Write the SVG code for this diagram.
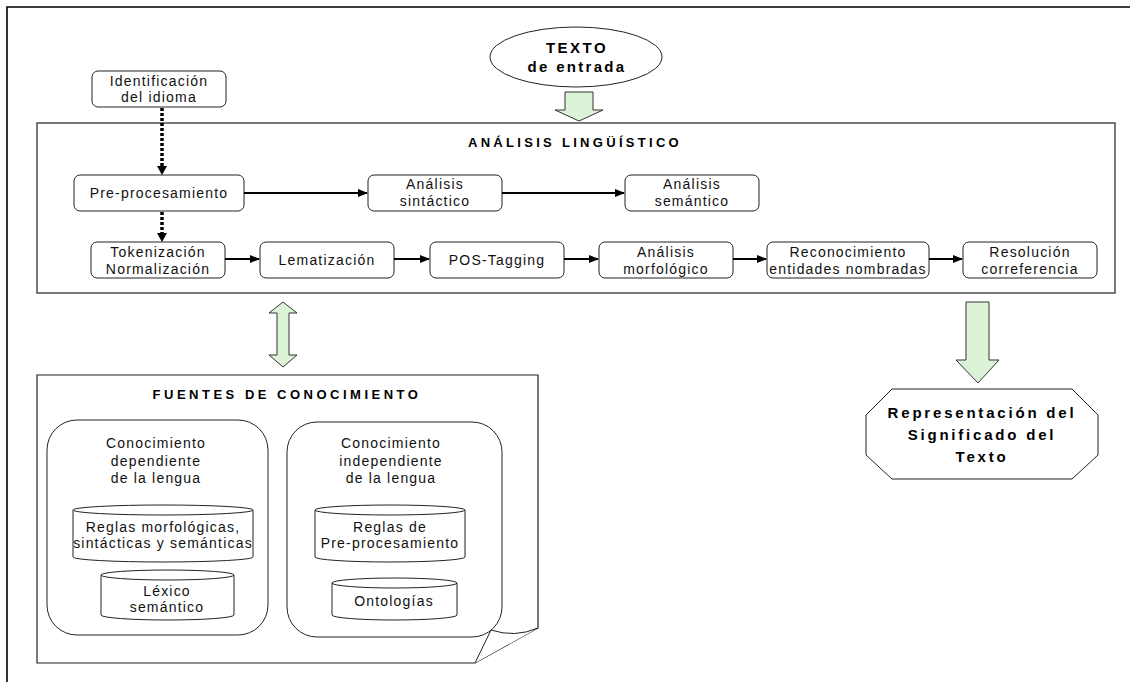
<svg xmlns="http://www.w3.org/2000/svg" width="1130" height="682" viewBox="0 0 1130 682">
<style>
.t{font-family:"Liberation Sans",Arial,sans-serif;font-size:14px;letter-spacing:1.2px;fill:#111;text-anchor:middle}
.b{font-family:"Liberation Sans",Arial,sans-serif;font-weight:bold;fill:#000;text-anchor:middle}
.node{fill:#fff;stroke:#222;stroke-width:1}
.cyl{fill:#fff;stroke:#222;stroke-width:1}
.conn{stroke:#000;stroke-width:2;fill:none}
.dash{stroke:#000;stroke-width:3.5;stroke-dasharray:3 2;fill:none}
.big{fill:#dcf3d8;stroke:#333;stroke-width:1}
</style>
<defs>
<marker id="ah" markerWidth="10" markerHeight="8" refX="9" refY="4" orient="auto" markerUnits="userSpaceOnUse">
<path d="M0,0 L10,4 L0,8 Z" fill="#000"/>
</marker>
</defs>
<rect width="1130" height="682" fill="#fff"/>
<g id="frame">
<path d="M7,682 V7 H1130" fill="none" stroke="#000" stroke-width="1.6"/>
</g>
<g id="texto-entrada">
<ellipse cx="576" cy="57" rx="86" ry="30" fill="#fff" stroke="#222" stroke-width="1"/>
<text class="b" x="577" y="53" font-size="15" letter-spacing="2.5">TEXTO</text>
<text class="b" x="577" y="72" font-size="15" letter-spacing="2.3">de entrada</text>
</g>
<g id="arrow-in">
<path class="big" d="M565,92 H593 V110 H603 L579,121 L555,110 H565 Z"/>
</g>
<g id="analisis">
<rect x="37" y="123" width="1078" height="170" fill="#fff" stroke="#404040" stroke-width="1.4"/>
<text class="b" x="575" y="147" font-size="13" letter-spacing="3.3">ANÁLISIS LINGÜÍSTICO</text>
</g>
<g id="identificacion">
<rect class="node" x="92" y="71" width="134" height="36" rx="6"/>
<text class="t" x="159" y="86">Identificación</text>
<text class="t" x="159" y="102">del idioma</text>
</g>
<g id="preproc">
<rect class="node" x="74" y="175" width="170" height="36" rx="6"/>
<text class="t" x="159" y="198">Pre-procesamiento</text>
</g>
<g id="sintactico">
<rect class="node" x="368" y="175" width="134" height="36" rx="6"/>
<text class="t" x="435" y="189">Análisis</text>
<text class="t" x="435" y="206">sintáctico</text>
</g>
<g id="semantico">
<rect class="node" x="625" y="175" width="134" height="36" rx="6"/>
<text class="t" x="692" y="189">Análisis</text>
<text class="t" x="692" y="206">semántico</text>
</g>
<g id="tokenizacion">
<rect class="node" x="91" y="242" width="134" height="36" rx="6"/>
<text class="t" x="158" y="257">Tokenización</text>
<text class="t" x="158" y="274">Normalización</text>
</g>
<g id="lematizacion">
<rect class="node" x="260" y="242" width="134" height="36" rx="6"/>
<text class="t" x="327" y="265">Lematización</text>
</g>
<g id="postagging">
<rect class="node" x="430" y="242" width="134" height="36" rx="6"/>
<text class="t" x="497" y="265">POS-Tagging</text>
</g>
<g id="morfologico">
<rect class="node" x="599" y="242" width="134" height="36" rx="6"/>
<text class="t" x="666" y="257">Análisis</text>
<text class="t" x="666" y="274">morfológico</text>
</g>
<g id="reconocimiento">
<rect class="node" x="767" y="242" width="162" height="36" rx="6"/>
<text class="t" x="848" y="257">Reconocimiento</text>
<text class="t" x="848" y="274" letter-spacing="1">entidades nombradas</text>
</g>
<g id="resolucion">
<rect class="node" x="963" y="242" width="134" height="36" rx="6"/>
<text class="t" x="1030" y="257">Resolución</text>
<text class="t" x="1030" y="274">correferencia</text>
</g>
<g id="connectors">
<line class="dash" x1="162" y1="108" x2="162" y2="167"/>
<path d="M157,166 L167,166 L162,175 Z" fill="#000"/>
<line class="dash" x1="162" y1="212" x2="162" y2="234"/>
<path d="M157,233 L167,233 L162,242 Z" fill="#000"/>
<line class="conn" x1="244" y1="193" x2="367" y2="193" marker-end="url(#ah)"/>
<line class="conn" x1="502" y1="193" x2="624" y2="193" marker-end="url(#ah)"/>
<line class="conn" x1="225" y1="259" x2="259" y2="259" marker-end="url(#ah)"/>
<line class="conn" x1="394" y1="259" x2="429" y2="259" marker-end="url(#ah)"/>
<line class="conn" x1="564" y1="259" x2="598" y2="259" marker-end="url(#ah)"/>
<line class="conn" x1="733" y1="259" x2="766" y2="259" marker-end="url(#ah)"/>
<line class="conn" x1="929" y1="259" x2="962" y2="259" marker-end="url(#ah)"/>
</g>
<g id="double-arrow">
<path class="big" d="M283,302 L297,313 H289 V355 H297 L283,367 L269,355 H277 V313 H269 Z"/>
</g>
<g id="arrow-out">
<path class="big" d="M966,302 H989 V360 H999 L978,383 L956,360 H966 Z"/>
</g>
<g id="representacion">
<polygon points="892,389 1072,389 1098,415 1098,455 1072,479 892,479 866,455 866,415" fill="#fff" stroke="#222" stroke-width="1"/>
<text class="b" x="982" y="418" font-size="15" letter-spacing="2.8">Representación del</text>
<text class="b" x="982" y="440" font-size="15" letter-spacing="2.8">Significado del</text>
<text class="b" x="982" y="462" font-size="15" letter-spacing="2.8">Texto</text>
</g>
<g id="fuentes">
<path d="M37,375 H538 V628 L475,663 H37 Z" fill="#fff" stroke="#222" stroke-width="1.2"/>
<text class="b" x="287" y="399" font-size="13" letter-spacing="3.5">FUENTES DE CONOCIMIENTO</text>
</g>
<g id="dependiente">
<rect x="47" y="420" width="221" height="215" rx="30" fill="#fff" stroke="#222" stroke-width="1"/>
<text class="t" x="156" y="448">Conocimiento</text>
<text class="t" x="156" y="466">dependiente</text>
<text class="t" x="156" y="483">de la lengua</text>
</g>
<g id="independiente">
<rect x="287" y="422" width="215" height="215" rx="30" fill="#fff" stroke="#222" stroke-width="1"/>
<text class="t" x="391" y="448">Conocimiento</text>
<text class="t" x="391" y="466">independiente</text>
<text class="t" x="391" y="483">de la lengua</text>
</g>
<g id="fold">
<path d="M475,663 L491,630 Q515,638 538,628" fill="#fff" stroke="#222" stroke-width="1"/>
</g>
<g id="reglas-morfo">
<path class="cyl" d="M73,510 A90,5 0 0 1 253,510 V557 A90,5 0 0 1 73,557 Z"/>
<path class="cyl" d="M73,510 A90,5 0 0 0 253,510" fill="none"/>
<text class="t" x="163" y="532" letter-spacing="1">Reglas morfológicas,</text>
<text class="t" x="163" y="548" letter-spacing="1">sintácticas y semánticas</text>
</g>
<g id="lexico">
<path class="cyl" d="M101,575 A66.5,5 0 0 1 234,575 V615 A66.5,5 0 0 1 101,615 Z"/>
<path class="cyl" d="M101,575 A66.5,5 0 0 0 234,575" fill="none"/>
<text class="t" x="167" y="596">Léxico</text>
<text class="t" x="167" y="612">semántico</text>
</g>
<g id="reglas-pre">
<path class="cyl" d="M315,510 A75,5 0 0 1 465,510 V557 A75,5 0 0 1 315,557 Z"/>
<path class="cyl" d="M315,510 A75,5 0 0 0 465,510" fill="none"/>
<text class="t" x="390" y="532">Reglas de</text>
<text class="t" x="390" y="548">Pre-procesamiento</text>
</g>
<g id="ontologias">
<path class="cyl" d="M332,583 A62.5,5 0 0 1 457,583 V615 A62.5,5 0 0 1 332,615 Z"/>
<path class="cyl" d="M332,583 A62.5,5 0 0 0 457,583" fill="none"/>
<text class="t" x="394" y="606">Ontologías</text>
</g>
</svg>
